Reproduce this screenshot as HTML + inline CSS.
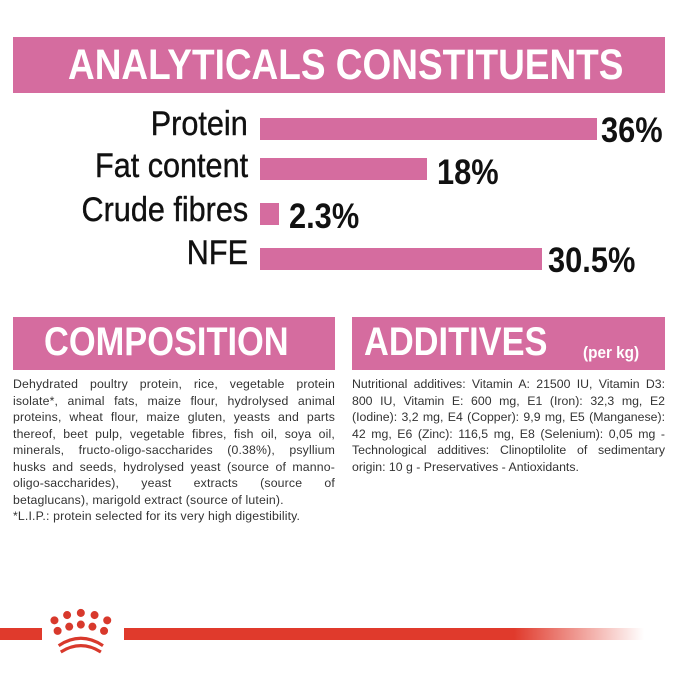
<!DOCTYPE html>
<html><head><meta charset="utf-8"><style>
body{margin:0;width:679px;height:679px;background:#fff;position:relative;overflow:hidden;font-family:"Liberation Sans",sans-serif}
.a{position:absolute}
.hb{background:#d56c9f}
.ht{color:#fff;font-weight:bold;white-space:nowrap}
.lab{font-size:34px;color:#111;white-space:nowrap;transform:scaleX(.9);transform-origin:right;right:431px;text-align:right;-webkit-text-stroke:0.4px #111}
.bar{background:#d56c9f;height:22px;left:260px}
.pct{font-size:35px;font-weight:bold;color:#111;transform:scaleX(.88);transform-origin:left}
.txt{font-size:12.3px;line-height:16.5px;color:#333;text-align:justify;text-align-last:left;letter-spacing:0.15px}
</style></head><body>
<div class="a hb" style="left:13px;top:37px;width:652px;height:56px"></div>
<div class="a ht" style="left:68px;top:41px;font-size:43px;transform:scaleX(.86);transform-origin:left">ANALYTICALS CONSTITUENTS</div>

<div class="a lab" style="top:105px">Protein</div>
<div class="a bar" style="top:118px;width:337px"></div>
<div class="a pct" style="left:601px;top:111px">36%</div>
<div class="a lab" style="top:147px">Fat content</div>
<div class="a bar" style="top:158px;width:167px"></div>
<div class="a pct" style="left:437px;top:153px">18%</div>
<div class="a lab" style="top:191px">Crude fibres</div>
<div class="a bar" style="top:203px;width:19px"></div>
<div class="a pct" style="left:289px;top:197px">2.3%</div>
<div class="a lab" style="top:234px">NFE</div>
<div class="a bar" style="top:248px;width:282px"></div>
<div class="a pct" style="left:548px;top:241px">30.5%</div>

<div class="a hb" style="left:13px;top:317px;width:322px;height:53px"></div>
<div class="a ht" style="left:44px;top:320px;font-size:40px;transform:scaleX(.86);transform-origin:left">COMPOSITION</div>
<div class="a hb" style="left:352px;top:317px;width:313px;height:53px"></div>
<div class="a ht" style="left:364px;top:320px;font-size:40px;transform:scaleX(.86);transform-origin:left">ADDITIVES</div>
<div class="a ht" style="left:583px;top:343px;font-size:17px;transform:scaleX(.9);transform-origin:left">(per kg)</div>

<div class="a txt" style="left:13px;top:376px;width:322px">Dehydrated poultry protein, rice, vegetable protein isolate*, animal fats, maize flour, hydrolysed animal proteins, wheat flour, maize gluten, yeasts and parts thereof, beet pulp, vegetable fibres, fish oil, soya oil, minerals, fructo-oligo-saccharides (0.38%), psyllium husks and seeds, hydrolysed yeast (source of manno-oligo-saccharides), yeast extracts (source of betaglucans), marigold extract (source of lutein).<br>*L.I.P.: protein selected for its very high digestibility.</div>
<div class="a txt" style="left:352px;top:376px;width:313px;letter-spacing:0">Nutritional additives: Vitamin A: 21500 IU, Vitamin D3: 800 IU, Vitamin E: 600 mg, E1 (Iron): 32,3 mg, E2 (Iodine): 3,2 mg, E4 (Copper): 9,9 mg, E5 (Manganese): 42 mg, E6 (Zinc): 116,5 mg, E8 (Selenium): 0,05 mg - Technological additives: Clinoptilolite of sedimentary origin: 10 g - Preservatives - Antioxidants.</div>

<div class="a" style="left:0;top:628px;width:42px;height:12px;background:#e03a2c"></div>
<div class="a" style="left:124px;top:628px;width:520px;height:12px;background:linear-gradient(90deg,#e03a2c 0%,#e03a2c 75%,rgba(224,58,44,0) 100%)"></div>
<svg class="a" style="left:46px;top:604px" width="76" height="58" viewBox="0 0 72 52">
<g fill="#d8392c"><circle cx="8" cy="14" r="3.8"/><circle cx="20" cy="9" r="3.8"/><circle cx="33" cy="7" r="3.8"/><circle cx="46" cy="9" r="3.8"/><circle cx="58" cy="14" r="3.8"/>
<circle cx="11" cy="24" r="3.8"/><circle cx="22" cy="20" r="3.8"/><circle cx="33" cy="18" r="3.8"/><circle cx="44" cy="20" r="3.8"/><circle cx="55" cy="24" r="3.8"/></g>
<path d="M12 38 Q33 24 54 38" stroke="#d8392c" stroke-width="3" fill="none"/><path d="M14 44 Q33 32 52 44" stroke="#d8392c" stroke-width="3" fill="none"/>
</svg>
</body></html>
